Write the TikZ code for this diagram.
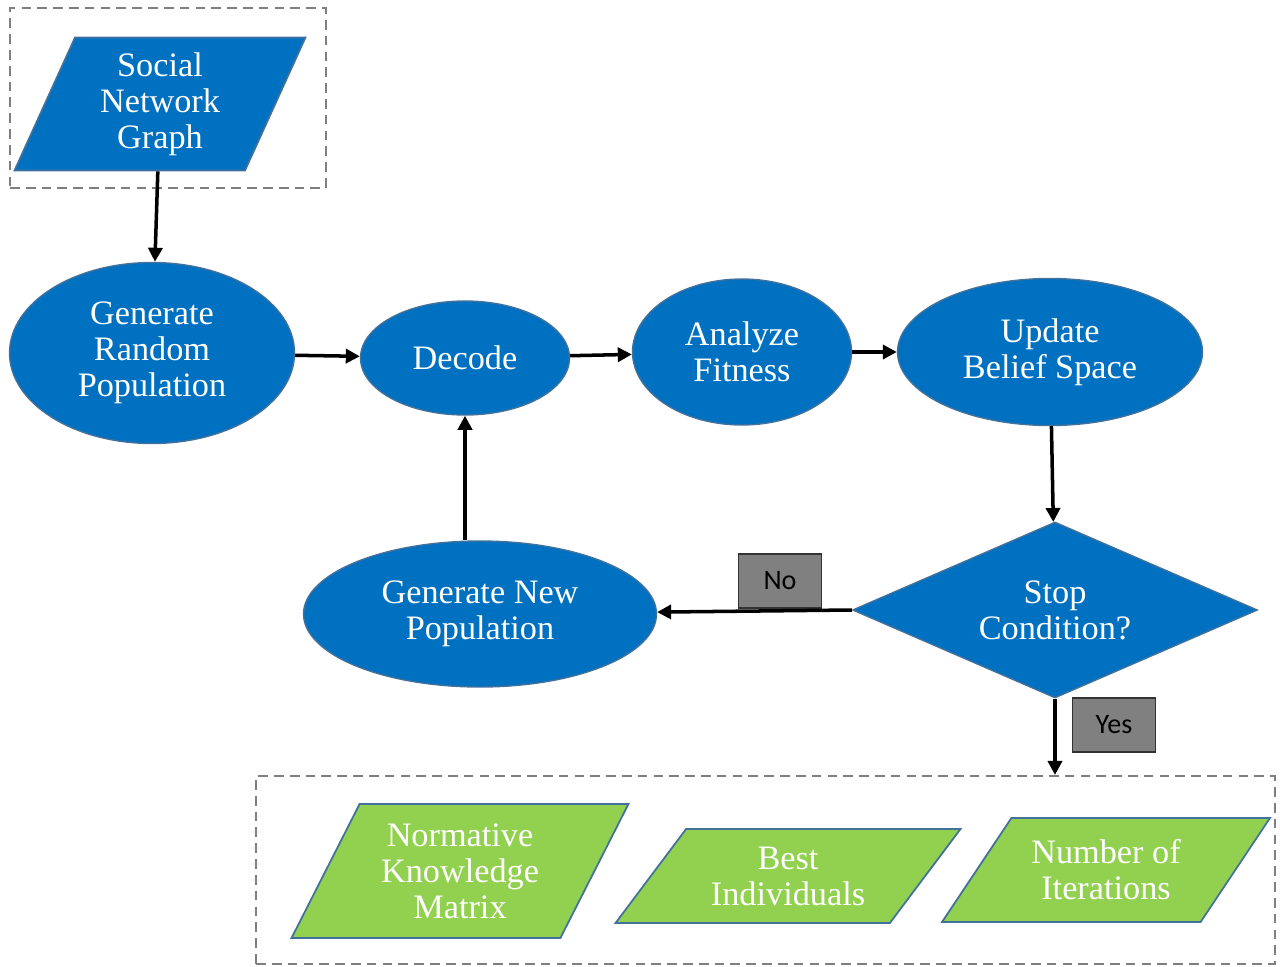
\documentclass[tikz,border=0pt]{standalone}
\usepackage{fontspec}
\setmainfont{Liberation Serif}
\newfontfamily\tagfont{Carlito}
\usetikzlibrary{shapes.geometric, arrows.meta}
\definecolor{stepblue}{HTML}{0070C0}
\definecolor{edgeblue}{HTML}{41719C}
\definecolor{outgreen}{HTML}{92D050}
\definecolor{tagfill}{HTML}{808080}
\definecolor{boxgray}{HTML}{7F7F7F}

\begin{document}
\begin{tikzpicture} [x=0.02cm, y=-0.02cm,
  blob/.style={ellipse, draw=edgeblue, line width=0.8pt, fill=stepblue, text=white, align=center, inner sep=0pt, font=\fontsize{19.5}{20.5}\selectfont},
  iobox/.style={trapezium, trapezium stretches body, draw=edgeblue, line width=1pt, text=white, align=center, inner sep=0pt, font=\fontsize{19.5}{20.5}\selectfont},
  choice/.style={diamond, aspect=2.3, draw=edgeblue, line width=0.8pt, fill=stepblue, text=white, align=center, inner sep=0pt, font=\fontsize{19.5}{20.5}\selectfont},
  tag/.style={rectangle, draw=black!80, line width=0.6pt, fill=tagfill, minimum width=1.66cm, minimum height=1.08cm, inner sep=0pt, font=\tagfont\fontsize{16}{18}\selectfont},
  dashbox/.style={rectangle, draw=boxgray, line width=1.2pt, dash pattern=on 5.5pt off 3.5pt},
  arr/.style={line width=2pt, -{Triangle[length=8pt,width=8pt]}}]
\useasboundingbox (0,0) rectangle (1280,966);

\node[dashbox, minimum width=6.32cm, minimum height=3.6cm] (inputs) at (168,98) {};
\node[dashbox, minimum width=20.38cm, minimum height=3.76cm] (outputs) at (765.5,870) {};

\node[iobox, fill=stepblue, trapezium left angle=59.6, trapezium right angle=120.4, minimum width=5.82cm, minimum height=2.66cm] (graph) at (160,104) {Social\\Network\\Graph};

\node[blob, minimum width=5.7cm, minimum height=3.62cm] (genrand) at (152,353) {Generate\\Random\\Population};
\node[blob, minimum width=4.18cm, minimum height=2.28cm] (decode) at (465,358) {Decode};
\node[blob, minimum width=4.38cm, minimum height=2.92cm] (fitness) at (742,352) {Analyze\\Fitness};
\node[blob, minimum width=6.1cm, minimum height=2.94cm] (belief) at (1050,352) {Update\\Belief Space};
\node[choice, minimum width=8.1cm, minimum height=3.52cm] (stop) at (1055,610) {Stop\\Condition?};
\node[blob, minimum width=7.06cm, minimum height=2.92cm] (gennew) at (480,614) {Generate New\\Population};

\node[tag] (no) at (780,581) {No};
\node[tag] (yes) at (1114,725) {Yes};

\node[iobox, fill=outgreen, trapezium left angle=54.4, trapezium right angle=125.6, minimum width=6.74cm, minimum height=2.68cm] (normative) at (460,871) {Normative\\Knowledge\\Matrix};
\node[iobox, fill=outgreen, trapezium left angle=39.8, trapezium right angle=140.2, minimum width=6.9cm, minimum height=1.88cm] (best) at (788,876) {Best\\Individuals};
\node[iobox, fill=outgreen, trapezium left angle=41.1, trapezium right angle=138.9, minimum width=6.56cm, minimum height=2.08cm] (iters) at (1106,870) {Number of\\Iterations};

\draw[arr] (graph) -- (genrand);
\draw[arr] (genrand) -- (decode);
\draw[arr] (decode) -- (fitness);
\draw[arr] (fitness) -- (belief);
\draw[arr] (belief) -- (stop);
\draw[arr] (stop.west) -- (gennew);
\draw[arr] (decode.south |- gennew.north) -- (decode.south);
\draw[arr] (stop.south) -- (stop.south |- outputs.north);
\end{tikzpicture}
\end{document}
